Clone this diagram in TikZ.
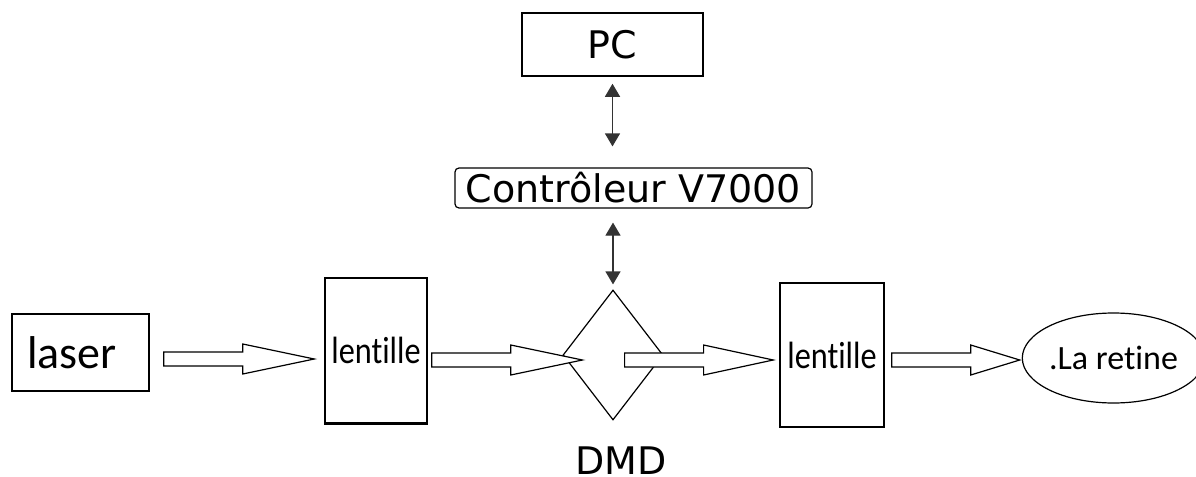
\documentclass[tikz,border=0pt]{standalone}
\usepackage{fontspec}
\usepackage{tikz}
\usetikzlibrary{shapes.geometric, arrows.meta, calc}
\newfontfamily\carlito[Ligatures=NoCommon]{Carlito}
\newfontfamily\carlitonarrow[Ligatures=NoCommon, FakeStretch=0.85]{Carlito}
\newfontfamily\dejavu{DejaVu Sans}

\tikzset{
    box/.style={draw, line width=0.75pt, inner sep=0pt},
    bigtext/.style={font=\dejavu\fontsize{19}{22}\selectfont},
    lenstext/.style={font=\carlitonarrow\fontsize{19}{22}\selectfont},
    fat arrow/.style={draw, fill=white, line width=0.6pt, to path={
        let \p1=(\tikztostart), \p2=(\tikztotarget) in
        (\x1,\y1+3.5pt) -- (\x1+39.5pt,\y1+3.5pt) -- (\x1+39.5pt,\y1+7.5pt)
        -- (\x2,\y1) -- (\x1+39.5pt,\y1-7.5pt) -- (\x1+39.5pt,\y1-3.5pt)
        -- (\x1,\y1-3.5pt) -- cycle}},
    both tips/.style={{Triangle[length=6.5pt,width=7.5pt]}-{Triangle[length=6.5pt,width=7.5pt]},
        draw=black!80, line width=0.6pt}
}

\begin{document}
\begin{tikzpicture}[x=0.5pt, y=-0.5pt]
        \useasboundingbox (0,0) rectangle (1196,477);

        \node[box, text width=53.5pt, align=left, inner xsep=7.5pt, minimum height=38.5pt,
              font=\carlito\fontsize{23}{27}\selectfont] (laser) at (80.5,352.5) {laser};

        \node[box, lenstext, minimum width=51pt, minimum height=72.5pt] (lentA) at (376,350.5) {lentille};
        \draw[line width=1.2pt] (lentA.south west) -- (lentA.south east);

        \node[draw, diamond, line width=0.6pt, inner sep=0pt, minimum width=50pt, minimum height=65pt] (dmd) at (613,355) {};
        \node[bigtext, anchor=base, inner sep=0pt] (dmdname) at (621,474) {DMD};

        \node[box, lenstext, minimum width=52pt, minimum height=72pt] (lentB) at (832,355) {lentille};

        \node[draw, ellipse, line width=0.6pt, inner sep=0pt, minimum width=81.5pt, minimum height=45pt,
              font=\carlito\fontsize{17}{20}\selectfont] (retine) at (1113.5,358) {.La retine};

        \node[box, bigtext, minimum width=90.5pt, minimum height=31.5pt] (pc) at (612.5,44.5) {PC};
        \node[box, bigtext, rounded corners=2pt, line width=0.6pt, minimum width=178.5pt, minimum height=20pt] (ctrl) at (633.5,188) {Contrôleur V7000};

        \draw[both tips, shorten <=3.5pt, shorten >=10.5pt] (pc) -- (pc |- ctrl.north);
        \draw[both tips, shorten <=7pt, shorten >=2.5pt] (dmd.north |- ctrl.south) -- (dmd.north);

        \draw[fat arrow] ([shift={(7pt,-3.25pt)}]laser.east) to ([xshift=-5pt]lentA.west);
        \draw[fat arrow] ([shift={(2pt,-4.75pt)}]lentA.east) to ([xshift=10pt]dmd.west);
        \draw[fat arrow] ([shift={(-19.5pt,-2.5pt)}]dmd.east) to ([xshift=-3pt]lentB.west);
        \draw[fat arrow] ([shift={(3.5pt,-2.5pt)}]lentB.east) to ([xshift=-1pt]retine.west);

    \end{tikzpicture}
\end{document}
